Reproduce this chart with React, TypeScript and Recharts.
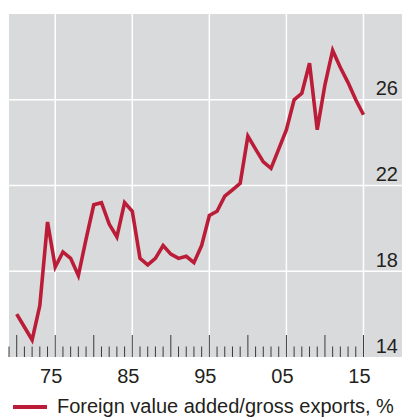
import React from 'react';
import { LineChart, Line, XAxis, YAxis, CartesianGrid, Legend } from 'recharts';

const years = [
  1970, 1971, 1972, 1973, 1974, 1975, 1976, 1977, 1978, 1979,
  1980, 1981, 1982, 1983, 1984, 1985, 1986, 1987, 1988, 1989,
  1990, 1991, 1992, 1993, 1994, 1995, 1996, 1997, 1998, 1999,
  2000, 2001, 2002, 2003, 2004, 2005, 2006, 2007, 2008, 2009,
  2010, 2011, 2012, 2013, 2014, 2015,
];
const foreignShare = [
  16.0, 15.4, 14.8, 16.4, 20.3, 18.2, 18.9, 18.6, 17.8, 19.5,
  21.1, 21.2, 20.2, 19.6, 21.2, 20.8, 18.6, 18.3, 18.6, 19.2,
  18.8, 18.6, 18.7, 18.4, 19.2, 20.6, 20.8, 21.5, 21.8, 22.1,
  24.3, 23.7, 23.1, 22.8, 23.7, 24.6, 26.0, 26.3, 27.7, 24.6,
  26.7, 28.3, 27.5, 26.8, 26.0, 25.3,
];
const xDomain = [1969, 2020];
const tickYears = Array.from({ length: 2015 - 1969 + 1 }, (_, i) => 1969 + i);
const labelYears = [1975, 1985, 1995, 2005, 2015];
const yDomain = [14, 30];
const yTicks = [14, 18, 22, 26];
const gridY = [18, 22, 26];
const legendLabel = 'Foreign value added/gross exports, %';

const data = years.map((year, i) => ({ year, value: foreignShare[i] }));

const FONT = '"Liberation Sans", Arial, Helvetica, sans-serif';
const TEXT = '#231f20';
const RED = '#bb1d38';
const BG = '#d9dadc';

const XTick = (props: any) => {
  const { x, y, payload } = props;
  const v = payload.value as number;
  const major = v % 5 === 0;
  const showLabel = labelYears.includes(v);
  return (
    <g>
      <line x1={x} x2={x} y1={y - (major ? 22 : 10.5)} y2={y} stroke="#3a3a3a" strokeWidth={1} />
      {showLabel && (
        <text x={x - 4} y={y + 26} textAnchor="middle" fontFamily={FONT} fontSize={20} fill={TEXT}>
          {String(v).slice(2)}
        </text>
      )}
    </g>
  );
};

const YTick = (props: any) => {
  const { x, y, payload } = props;
  return (
    <text x={x - 4} y={y - 4.5} textAnchor="end" fontFamily={FONT} fontSize={20} fill={TEXT}>
      {payload.value}
    </text>
  );
};

const renderLegend = () => (
  <svg width={402} height={24} style={{ display: 'block' }}>
    <line x1={13} x2={47} y1={11} y2={11} stroke={RED} strokeWidth={4} />
    <text x={57} y={17} fontFamily={FONT} fontSize={20} fill={TEXT}>
      {legendLabel}
    </text>
  </svg>
);

export default function App() {
  return (
    <div style={{ position: 'absolute', left: 0, top: 0, width: 402, height: 417, background: '#fff' }}>
      <LineChart width={402} height={417} data={data} margin={{ top: 14, right: -1, bottom: 59, left: 9 }}>
        <CartesianGrid
          fill={BG}
          stroke="#ffffff"
          strokeWidth={1.5}
          horizontalValues={gridY}
          verticalValues={labelYears}
        />
        <XAxis
          dataKey="year"
          type="number"
          domain={xDomain}
          ticks={tickYears}
          interval={0}
          height={1}
          tickSize={0}
          tickMargin={0}
          axisLine={false}
          tickLine={false}
          tick={<XTick />}
          allowDataOverflow
        />
        <YAxis
          orientation="right"
          type="number"
          domain={yDomain}
          ticks={yTicks}
          interval={0}
          width={1}
          tickSize={0}
          tickMargin={0}
          axisLine={false}
          tickLine={false}
          tick={<YTick />}
          allowDataOverflow
        />
        <Legend
          layout="horizontal"
          verticalAlign="middle"
          align="center"
          content={renderLegend}
          wrapperStyle={{ left: 0, top: 396, width: 402, height: 24 }}
        />
        <Line
          type="linear"
          dataKey="value"
          stroke={RED}
          strokeWidth={3.6}
          strokeLinejoin="miter"
          dot={false}
          activeDot={false}
          isAnimationActive={false}
        />
      </LineChart>
    </div>
  );
}
